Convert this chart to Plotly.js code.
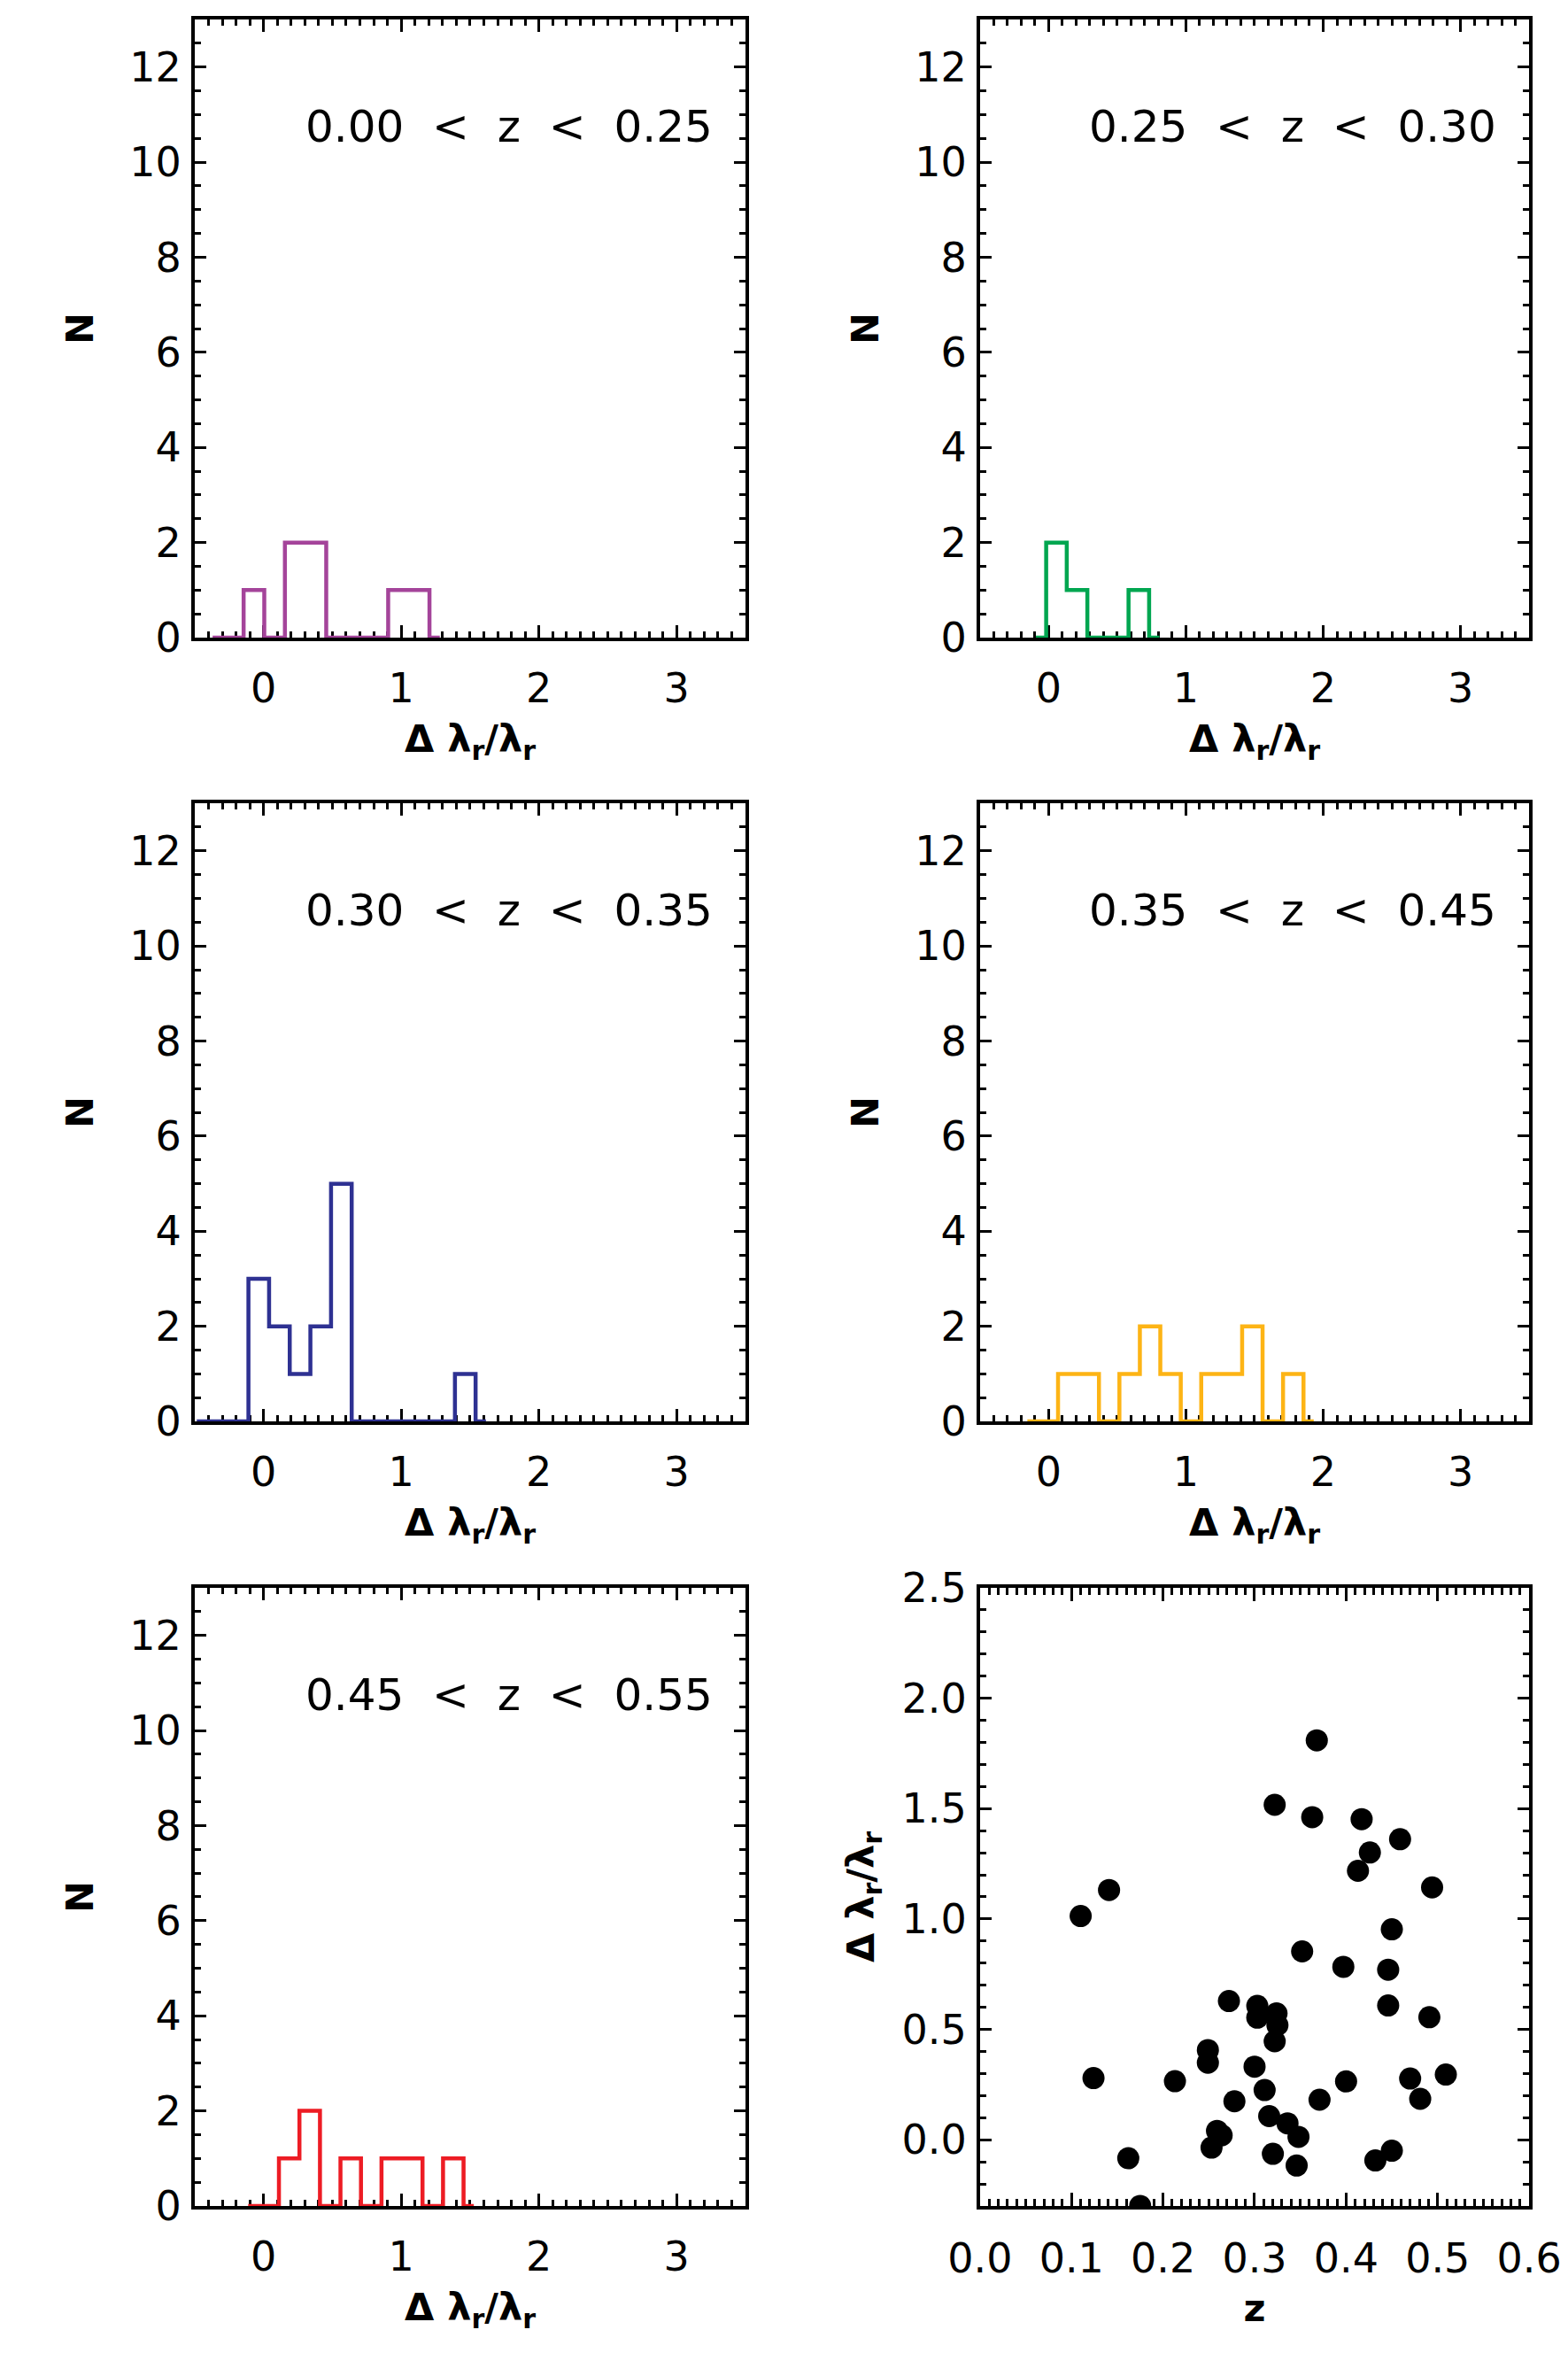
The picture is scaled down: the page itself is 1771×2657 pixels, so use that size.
<!DOCTYPE html>
<html>
<head>
<meta charset="utf-8">
<script src="https://cdn.plot.ly/plotly-3.0.1.min.js"></script>
<style>html,body{margin:0;padding:0;background:#fff;}</style>
</head>
<body>
<div id="chart" style="width:1771px;height:2657px;"></div>
<script>
// ---------------- DATA ----------------
const zBinLabels = ['0.00 < z < 0.25', '0.25 < z < 0.30', '0.30 < z < 0.35', '0.35 < z < 0.45', '0.45 < z < 0.55'];

const binCenters1 = [-0.37, -0.22, -0.07, 0.08, 0.23, 0.38, 0.53, 0.68, 0.83, 0.98, 1.13, 1.28];
const counts1     = [0, 0, 1, 0, 2, 2, 0, 0, 0, 1, 1, 0];

const binCenters2 = [-0.093, 0.057, 0.207, 0.357, 0.507, 0.657, 0.807];
const counts2     = [0, 2, 1, 0, 0, 1, 0];

const binCenters3 = [-0.485, -0.335, -0.185, -0.035, 0.115, 0.265, 0.415, 0.565, 0.715, 0.865, 1.015, 1.165, 1.315, 1.465, 1.615];
const counts3     = [0, 0, 0, 3, 2, 1, 2, 5, 0, 0, 0, 0, 0, 1, 0];

const binCenters4 = [-0.155, -0.006, 0.143, 0.292, 0.441, 0.590, 0.739, 0.888, 1.037, 1.186, 1.335, 1.484, 1.633, 1.782, 1.931];
const counts4     = [0, 0, 1, 1, 0, 1, 2, 1, 0, 1, 1, 2, 0, 1, 0];

const binCenters5 = [-0.112, 0.037, 0.186, 0.335, 0.484, 0.633, 0.782, 0.931, 1.080, 1.229, 1.378, 1.527];
const counts5     = [0, 0, 1, 2, 0, 1, 0, 1, 1, 0, 1, 0];

const zValues = [0.368, 0.322, 0.363, 0.417, 0.459, 0.426, 0.413, 0.494, 0.141, 0.110,
                 0.450, 0.352, 0.397, 0.446, 0.272, 0.303, 0.446, 0.324, 0.491, 0.303,
                 0.325, 0.322, 0.249, 0.249, 0.300, 0.124, 0.509, 0.213, 0.400, 0.470,
                 0.311, 0.278, 0.371, 0.481, 0.316, 0.336, 0.259, 0.264, 0.348, 0.253,
                 0.450, 0.320, 0.162, 0.432, 0.346, 0.175];
const dLambda = [1.809, 1.517, 1.461, 1.452, 1.361, 1.301, 1.218, 1.143, 1.131, 1.013,
                 0.953, 0.853, 0.783, 0.770, 0.628, 0.606, 0.608, 0.572, 0.555, 0.553,
                 0.519, 0.446, 0.406, 0.349, 0.331, 0.279, 0.295, 0.265, 0.264, 0.277,
                 0.225, 0.174, 0.181, 0.185, 0.107, 0.074, 0.040, 0.020, 0.013, -0.036,
                 -0.050, -0.064, -0.084, -0.094, -0.117, -0.300];

const histCenters = [binCenters1, binCenters2, binCenters3, binCenters4, binCenters5];
const histCounts  = [counts1, counts2, counts3, counts4, counts5];

// ---------------- STYLE ----------------
const histColors = ['#A4449A', '#00A650', '#2E3192', '#FDB415', '#ED1C24'];
const FONT = 'DejaVu Sans';
const TICKSIZE = 46;
const colX = [[0.1242, 0.4754], [0.6250, 0.9752]];
const rowY = [[0.7290, 0.9917], [0.3959, 0.6586], [0.0625, 0.3252]];

function baseAxis(extra) {
  return Object.assign({
    showline: true, linewidth: 4, linecolor: 'black', mirror: 'allticks',
    ticks: 'inside', tickwidth: 3, tickcolor: 'black',
    showgrid: false, zeroline: false,
    tickfont: {family: FONT, size: TICKSIZE, color: 'black'},
    layer: 'below traces', fixedrange: true
  }, extra);
}

const xTitleHist = 'Δ λ<sub>r</sub>/λ<sub>r</sub>';
const titleFont = {family: FONT, size: 43, weight: 'bold', color: 'black'};
const data = [];
const layout = {
  width: 1771, height: 2657,
  margin: {l: 0, r: 0, t: 0, b: 0},
  paper_bgcolor: 'white', plot_bgcolor: 'white',
  showlegend: false,
  font: {family: FONT, color: 'black'},
  annotations: []
};

for (let i = 0; i < 5; i++) {
  const n = i + 1;
  const row = Math.floor(i / 2), col = i % 2;
  const xa = 'x' + (n === 1 ? '' : n), ya = 'y' + (n === 1 ? '' : n);
  const xk = 'xaxis' + (n === 1 ? '' : n), yk = 'yaxis' + (n === 1 ? '' : n);
  data.push({
    type: 'scatter', mode: 'lines', x: histCenters[i], y: histCounts[i],
    xaxis: xa, yaxis: ya, cliponaxis: false,
    line: {shape: 'hvh', color: histColors[i], width: 4.5}
  });
  layout[xk] = baseAxis({
    domain: colX[col], anchor: ya, range: [-0.5, 3.5], dtick: 1, tick0: 0, ticklen: 14,
    ticklabelstandoff: 14,
    minor: {dtick: 0.1, ticklen: 7, tickwidth: 3, ticks: 'inside', tickcolor: 'black'},
    title: {text: xTitleHist, font: titleFont, standoff: 17}
  });
  layout[yk] = baseAxis({
    domain: rowY[row], anchor: xa, range: [0, 13], dtick: 2, tick0: 0, ticklen: 13,
    ticklabelstandoff: 2,
    minor: {dtick: 0.5, ticklen: 7, tickwidth: 3, ticks: 'inside', tickcolor: 'black'},
    title: {text: 'N', font: titleFont, standoff: 28}
  });
  const lbl = zBinLabels[i].split(' ').join('\u00A0\u00A0').replace(/</g, '&lt;');
  layout.annotations.push({
    xref: xa + ' domain', yref: ya + ' domain', x: 0.944, y: 0.827,
    xanchor: 'right', yanchor: 'middle', showarrow: false, text: lbl,
    font: {family: FONT, size: 50, color: 'black'}
  });
}

// scatter panel
data.push({
  type: 'scatter', mode: 'markers', x: zValues, y: dLambda,
  xaxis: 'x6', yaxis: 'y6', cliponaxis: true,
  marker: {color: 'black', size: 25, line: {width: 0}}
});
layout.xaxis6 = baseAxis({
  domain: colX[1], anchor: 'y6', range: [0, 0.6], dtick: 0.1, tick0: 0, tickformat: '.1f', ticklen: 15,
  ticklabelstandoff: 16, layer: 'above traces',
  minor: {dtick: 0.01, ticklen: 8, tickwidth: 3, ticks: 'inside', tickcolor: 'black'},
  title: {text: 'z', font: titleFont, standoff: 16}
});
layout.yaxis6 = baseAxis({
  domain: rowY[2], anchor: 'x6', range: [-0.3, 2.5], dtick: 0.5, tick0: 0, tickformat: '.1f', ticklen: 13,
  ticklabelstandoff: 2, layer: 'above traces',
  minor: {dtick: 0.1, ticklen: 7, tickwidth: 3, ticks: 'inside', tickcolor: 'black'},
  title: {text: xTitleHist, font: titleFont, standoff: 18}
});

Plotly.newPlot('chart', data, layout, {staticPlot: true, displayModeBar: false});
</script>
</body>
</html>
